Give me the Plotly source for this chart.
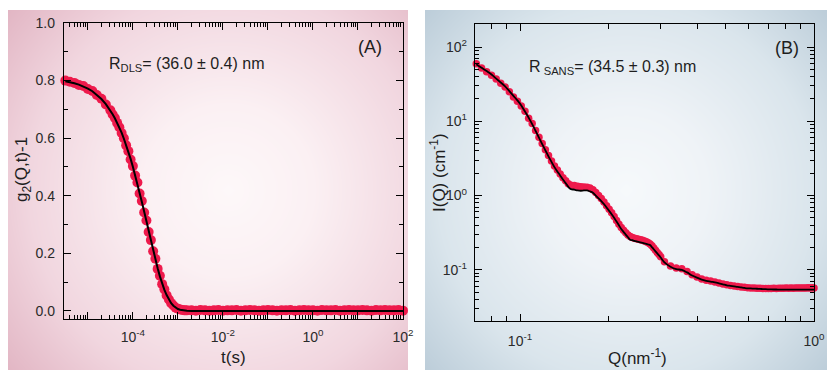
import plotly.graph_objects as go
import numpy as np

# ---------------- DLS panel (A) ----------------
t_dls = [
    3.16e-6, 3.98e-6, 5.01e-6, 6.31e-6, 7.94e-6, 1.00e-5, 1.26e-5, 1.58e-5, 2.00e-5, 2.51e-5,
    3.16e-5, 3.55e-5, 3.98e-5, 4.47e-5, 5.01e-5, 5.62e-5, 6.31e-5, 7.08e-5, 7.94e-5, 8.91e-5,
    1.00e-4, 1.12e-4, 1.26e-4, 1.41e-4, 1.58e-4, 1.78e-4, 2.00e-4, 2.24e-4, 2.51e-4, 2.82e-4,
    3.16e-4, 3.55e-4, 3.98e-4, 4.47e-4, 5.01e-4, 5.62e-4, 6.31e-4, 7.08e-4, 7.94e-4, 8.91e-4,
    1.00e-3, 1.12e-3, 1.26e-3, 1.41e-3, 1.58e-3,
    2.00e-3, 2.51e-3, 3.16e-3, 3.98e-3, 5.01e-3, 6.31e-3, 7.94e-3, 1.00e-2,
    1.26e-2, 1.58e-2, 2.00e-2, 2.51e-2, 3.16e-2, 3.98e-2, 5.01e-2, 6.31e-2,
    7.94e-2, 0.100, 0.126, 0.158, 0.200, 0.251, 0.316, 0.398,
    0.501, 0.631, 0.794, 1.00, 1.26, 1.58, 2.00, 2.51,
    3.16, 3.98, 5.01, 6.31, 7.94, 10.0, 12.6, 15.8,
    20.0, 25.1, 31.6, 39.8, 50.1, 63.1, 79.4, 100.0,
]
g2_data = [
    0.800, 0.796, 0.792, 0.785, 0.781, 0.771, 0.764, 0.750, 0.737, 0.717,
    0.697, 0.682, 0.670, 0.653, 0.638, 0.618, 0.600, 0.575, 0.555, 0.526,
    0.503, 0.470, 0.446, 0.408, 0.382, 0.342, 0.314, 0.274, 0.246, 0.207,
    0.181, 0.146, 0.122, 0.093, 0.075, 0.054, 0.040, 0.027, 0.019, 0.011,
    0.008, 0.005, 0.003, 0.002, 0.002,
    0.002, 0.001, 0.003, 0.002, 0.001, 0.002, 0.003, 0.001,
    0.002, 0.002, 0.003, 0.001, 0.002, 0.003, 0.002, 0.001,
    0.002, 0.003, 0.002, 0.001, 0.002, 0.002, 0.003, 0.001,
    0.002, 0.003, 0.002, 0.002, 0.001, 0.003, 0.002, 0.002,
    0.003, 0.001, 0.002, 0.003, 0.002, 0.002, 0.003, 0.002,
    0.001, 0.003, 0.002, 0.003, 0.002, 0.002, 0.003, 0.001,
]
g2_fit = [
    0.798, 0.795, 0.791, 0.786, 0.780, 0.772, 0.763, 0.751, 0.736, 0.718,
    0.696, 0.683, 0.669, 0.654, 0.637, 0.619, 0.598, 0.577, 0.553, 0.528,
    0.501, 0.473, 0.443, 0.411, 0.379, 0.345, 0.311, 0.277, 0.243, 0.210,
    0.178, 0.148, 0.120, 0.095, 0.073, 0.055, 0.039, 0.027, 0.018, 0.011,
    0.0067, 0.0040, 0.0019, 0.0010, 0.0004,
    0.0, 0.0, 0.0, 0.0, 0.0, 0.0, 0.0, 0.0,
    0.0, 0.0, 0.0, 0.0, 0.0, 0.0, 0.0, 0.0,
    0.0, 0.0, 0.0, 0.0, 0.0, 0.0, 0.0, 0.0,
    0.0, 0.0, 0.0, 0.0, 0.0, 0.0, 0.0, 0.0,
    0.0, 0.0, 0.0, 0.0, 0.0, 0.0, 0.0, 0.0,
    0.0, 0.0, 0.0, 0.0, 0.0, 0.0, 0.0, 0.0,
]

# ---------------- SANS panel (B) ----------------
q_sans = [
    0.071, 0.074, 0.077, 0.080, 0.083, 0.086, 0.089, 0.092, 0.095, 0.098,
    0.101, 0.104, 0.107, 0.110, 0.113, 0.116, 0.119, 0.122, 0.125, 0.128,
    0.131, 0.134, 0.137, 0.140, 0.143, 0.146, 0.149,
    0.153, 0.157, 0.161, 0.165, 0.169, 0.173, 0.177, 0.181, 0.185, 0.189,
    0.193, 0.197, 0.201, 0.205, 0.209, 0.213, 0.217, 0.221, 0.225, 0.229,
    0.233, 0.237, 0.241, 0.245, 0.249, 0.253, 0.257, 0.261, 0.265, 0.269,
    0.273, 0.277, 0.281, 0.285, 0.289, 0.293, 0.297, 0.301,
    0.310, 0.325, 0.340, 0.355, 0.370, 0.385, 0.400, 0.415, 0.430, 0.445,
    0.460, 0.475, 0.490, 0.505, 0.520, 0.535, 0.550, 0.565, 0.580, 0.595,
    0.610, 0.625, 0.640, 0.655, 0.670, 0.685, 0.700, 0.715, 0.730, 0.745,
    0.760, 0.775, 0.790, 0.805, 0.820, 0.835, 0.850, 0.865, 0.880, 0.895,
    0.910, 0.925, 0.940, 0.955, 0.970, 0.985, 1.000,
]
i_data = [
    59.5, 52.0, 46.5, 41.8, 37.0, 32.5, 29.0, 25.0, 21.3, 18.6,
    16.0, 13.6, 11.0, 9.3, 7.5, 6.1, 5.0, 4.15, 3.45, 2.92,
    2.50, 2.20, 1.95, 1.74, 1.58, 1.44, 1.38,
    1.36, 1.33, 1.31, 1.30, 1.29, 1.26, 1.20, 1.10, 1.00, 0.91,
    0.82, 0.73, 0.655, 0.585, 0.52, 0.46, 0.41, 0.37, 0.34, 0.315,
    0.295, 0.28, 0.272, 0.266, 0.262, 0.258, 0.254, 0.249, 0.244, 0.238,
    0.231, 0.223, 0.210, 0.196, 0.183, 0.171, 0.160, 0.150,
    0.128, 0.112, 0.106, 0.103, 0.095, 0.086, 0.080, 0.075, 0.0725, 0.0705,
    0.0685, 0.0665, 0.0645, 0.0628, 0.0615, 0.0605, 0.0596, 0.0588, 0.0580, 0.0574,
    0.0570, 0.0566, 0.0565, 0.0562, 0.0560, 0.0561, 0.0559, 0.0560, 0.0562, 0.0560,
    0.0563, 0.0565, 0.0562, 0.0566, 0.0564, 0.0567, 0.0565, 0.0568, 0.0566, 0.0569,
    0.0567, 0.0570, 0.0568, 0.0571, 0.0569, 0.0572, 0.0570,
]
i_fit = [
    58.8, 52.6, 47.4, 42.6, 37.6, 33.3, 29.6, 25.5, 22.0, 19.1,
    16.3, 13.5, 11.2, 9.16, 7.41, 6.03, 4.93, 4.05, 3.37, 2.84,
    2.41, 2.11, 1.86, 1.64, 1.47, 1.31, 1.22,
    1.20, 1.17, 1.16, 1.17, 1.17, 1.135, 1.09, 1.00, 0.918, 0.843,
    0.769, 0.690, 0.621, 0.560, 0.502, 0.446, 0.397, 0.355, 0.324, 0.298,
    0.274, 0.254, 0.250, 0.245, 0.241, 0.237, 0.233, 0.230, 0.226, 0.223,
    0.219, 0.215, 0.202, 0.189, 0.177, 0.166, 0.156, 0.146,
    0.126, 0.110, 0.102, 0.0995, 0.0921, 0.0839, 0.0783, 0.0738, 0.0711, 0.0692,
    0.0675, 0.0656, 0.0637, 0.0618, 0.0607, 0.0597, 0.0587, 0.0578, 0.0569, 0.0562,
    0.0560, 0.0557, 0.0555, 0.0552, 0.0550, 0.0547, 0.0545, 0.0543, 0.0542, 0.0542,
    0.0541, 0.0541, 0.0541, 0.0541, 0.0541, 0.0541, 0.0541, 0.0541, 0.0541, 0.0541,
    0.0541, 0.0541, 0.0541, 0.0541, 0.0541, 0.0541, 0.0541,
]

assert len(t_dls) == len(g2_data) == len(g2_fit)
assert len(q_sans) == len(i_data) == len(i_fit)

RED = "#EE1A4C"
FONT = "Liberation Sans, Arial, sans-serif"
TXT = "#1e1e1e"

fig = go.Figure()

# ---- radial-gradient panel backgrounds (decoration) ----
gx = np.linspace(0, 1, 41)
gy = np.linspace(0, 1, 41)
GX, GY = np.meshgrid(gx, gy)

def radial(cx, cy, w, h):
    r = np.sqrt(((GX - cx) * w) ** 2 + ((GY - cy) * h) ** 2)
    return r / r.max()

fig.add_trace(go.Heatmap(x=gx, y=gy, z=radial(0.55, 0.5, 400, 360), xaxis="x", yaxis="y",
                         colorscale=[[0, "#fdf8f9"], [0.3, "#fbf0f3"], [0.7, "#f1d6df"], [1, "#e2b6c4"]],
                         zsmooth="best", showscale=False, hoverinfo="skip"))
fig.add_trace(go.Heatmap(x=gx, y=gy, z=radial(0.5, 0.5, 402, 360), xaxis="x2", yaxis="y2",
                         colorscale=[[0, "#f6f9fb"], [0.3, "#eff3f7"], [0.7, "#dae5ec"], [1, "#bccdd9"]],
                         zsmooth="best", showscale=False, hoverinfo="skip"))

# ---- data ----
fig.add_trace(go.Scatter(x=t_dls, y=g2_data, mode="markers", xaxis="x3", yaxis="y3",
                         marker=dict(size=10, color=RED, line=dict(width=0)), cliponaxis=False,
                         showlegend=False))
fig.add_trace(go.Scatter(x=t_dls, y=g2_fit, mode="lines", xaxis="x3", yaxis="y3",
                         line=dict(color="black", width=2), showlegend=False))
fig.add_trace(go.Scatter(x=q_sans, y=i_data, mode="markers", xaxis="x4", yaxis="y4",
                         marker=dict(size=7.5, color=RED, line=dict(width=0)), cliponaxis=False,
                         showlegend=False))
fig.add_trace(go.Scatter(x=q_sans, y=i_fit, mode="lines", xaxis="x4", yaxis="y4",
                         line=dict(color="black", width=1.8, shape="spline"), showlegend=False))

W, H = 827, 370
def px(x):
    return x / W
def py(y):
    return 1 - y / H

hidden = dict(visible=False, range=[0, 1], fixedrange=True, automargin=False)

# ticks
t_major = [10.0 ** e for e in range(-5, 3)]
t_text = ["" if e % 2 else "10<sup>%d</sup>" % e for e in range(-5, 3)]
t_minor = [m * 10.0 ** e for e in range(-6, 2) for m in range(2, 10)]
q_major = [0.1, 1.0]
q_text = ["10<sup>-1</sup>", "10<sup>0</sup>"]
q_minor = [0.08, 0.09] + [m / 10 for m in range(2, 10)]
i_major = [0.1, 1, 10, 100]
i_text = ["10<sup>-1</sup>", "10<sup>0</sup>", "10<sup>1</sup>", "10<sup>2</sup>"]
i_minor = [m * 10.0 ** e for e in range(-2, 3) for m in range(2, 10)]

axcommon = dict(showline=True, linecolor="black", linewidth=1.3, mirror="ticks",
                ticks="inside", tickcolor="black", tickwidth=1.1, showgrid=False, zeroline=False,
                tickfont=dict(family=FONT, size=14, color="#2a2a2a"), fixedrange=True,
                automargin=False)

fig.update_layout(
    width=W, height=H, autosize=False, margin=dict(l=0, r=0, t=0, b=0, pad=0),
    paper_bgcolor="white", plot_bgcolor="rgba(0,0,0,0)",
    xaxis=dict(domain=[px(8), px(408)], anchor="y", **hidden),
    yaxis=dict(domain=[0, py(10)], anchor="x", **hidden),
    xaxis2=dict(domain=[px(425), 1], anchor="y2", **hidden),
    yaxis2=dict(domain=[0, py(10)], anchor="x2", **hidden),
    xaxis3=dict(domain=[px(64), px(403)], anchor="y3", type="log", range=[-5.53, 2.0],
                tickvals=t_major, ticktext=t_text, ticklen=7, ticklabelstandoff=5,
                minor=dict(tickvals=t_minor, ticks="inside", ticklen=3.5, tickcolor="black"),
                **axcommon),
    yaxis3=dict(domain=[py(319), py(23)], anchor="x3", range=[-0.028, 1.0],
                tickvals=[0, 0.2, 0.4, 0.6, 0.8, 1.0],
                ticktext=["0.0", "0.2", "0.4", "0.6", "0.8", "1.0"], ticklen=7, ticklabelstandoff=5,
                minor=dict(dtick=0.1, ticks="inside", ticklen=4, tickcolor="black"),
                **axcommon),
    xaxis4=dict(domain=[px(475), px(814)], anchor="y4", type="log", range=[np.log10(0.0703), 0.0],
                tickvals=q_major, ticktext=q_text, ticklen=7, ticklabelstandoff=7,
                minor=dict(tickvals=q_minor, ticks="inside", ticklen=5, tickcolor="black"),
                **axcommon),
    yaxis4=dict(domain=[py(321), py(24)], anchor="x4", type="log", range=[-1.69, 2.31],
                tickvals=i_major, ticktext=i_text, ticklen=7, ticklabelstandoff=4,
                minor=dict(tickvals=i_minor, ticks="inside", ticklen=3.5, tickcolor="black"),
                **axcommon),
)

ann = [
    dict(x=px(233), y=py(357), text="t(s)", size=17),
    dict(x=px(23), y=py(170), text="g<sub>2</sub>(Q,t)-1", size=17, textangle=-90),
    dict(x=px(637), y=py(357), text="Q(nm<sup>-1</sup>)", size=17),
    dict(x=px(438), y=py(173), text="I(Q) (cm<sup>-1</sup>)", size=17, textangle=-90),
    dict(x=px(370), y=py(47), text="(A)", size=18),
    dict(x=px(787), y=py(48), text="(B)", size=18),
    dict(x=px(107), y=py(64), text="R<sub>DLS</sub>= (36.0 ± 0.4) nm", size=16, xanchor="left"),
    dict(x=px(527), y=py(67), text="R<sub> SANS</sub>= (34.5 ± 0.3) nm", size=16, xanchor="left"),
]
for a in ann:
    fig.add_annotation(x=a["x"], y=a["y"], xref="paper", yref="paper", text=a["text"],
                       showarrow=False, textangle=a.get("textangle", 0),
                       xanchor=a.get("xanchor", "center"), yanchor="middle",
                       font=dict(family=FONT, size=a["size"], color=TXT))

fig.write_html(
    "out.html",
    config={"displayModeBar": False, "responsive": False},
    post_script=(
        "document.documentElement.style.overflow='hidden';"
        "document.body.style.overflow='hidden';"
        "document.body.style.margin='0px';document.body.style.padding='0px';"
    ),
)
